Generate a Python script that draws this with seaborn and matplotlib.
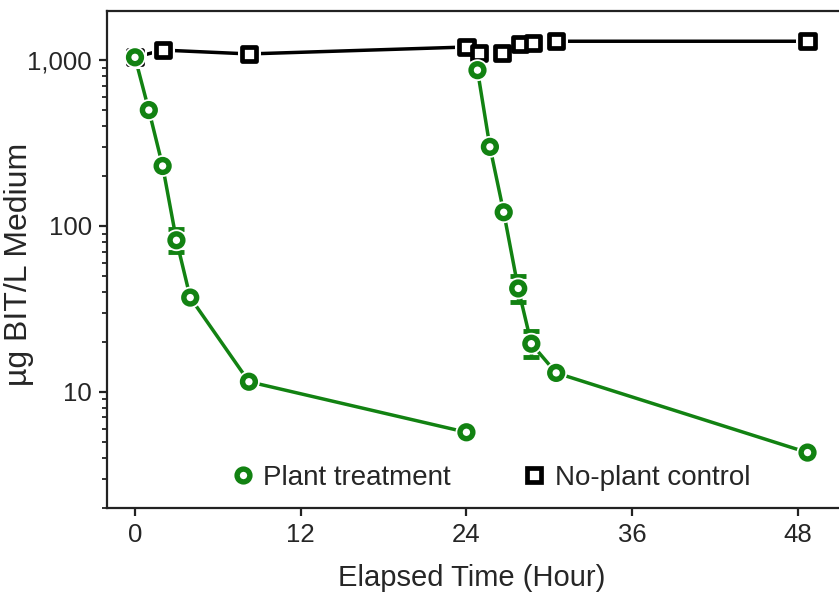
import numpy as np
import pandas as pd
import matplotlib
matplotlib.use("Agg")
import matplotlib.pyplot as plt
import matplotlib.patheffects as pe
from matplotlib.lines import Line2D
from matplotlib.ticker import FuncFormatter, LogLocator, NullFormatter
import seaborn as sns

# Plant treatment: two dosing runs (0-24 h and 24.8-48.7 h)
plant_hours_1 = [0, 1, 2, 3, 4, 8.25, 24]
plant_conc_1 = [1040, 500, 230, 82, 37, 11.5, 5.7]
plant_hours_2 = [24.8, 25.7, 26.7, 27.75, 28.7, 30.5, 48.7]
plant_conc_2 = [870, 300, 121, 42, 19.5, 13, 4.3]

# No-plant control
control_hours = [0, 2, 8.25, 24, 24.9, 26.6, 27.9, 28.8, 30.5, 48.7]
control_conc = [1040, 1150, 1090, 1200, 1100, 1100, 1250, 1270, 1300, 1300]

# error bars (plant treatment, lower / upper)
err_hours = [3, 27.75, 28.7]
err_conc = [82, 42, 19.5]
err_low = [70, 35, 16.3]
err_high = [96, 50, 23.4]

GREEN = "#128212"
BLACK = "#000000"

plant = pd.concat([
    pd.DataFrame({"hour": plant_hours_1, "conc": plant_conc_1, "run": 1}),
    pd.DataFrame({"hour": plant_hours_2, "conc": plant_conc_2, "run": 2}),
])
plant["group"] = "Plant treatment"
control = pd.DataFrame({"hour": control_hours, "conc": control_conc, "run": 0})
control["group"] = "No-plant control"
df = pd.concat([control, plant], ignore_index=True)

sns.set_style("ticks")
plt.rcParams["font.family"] = ["Liberation Sans", "DejaVu Sans"]

fig = plt.figure(figsize=(8.39, 5.98), dpi=100)
ax = fig.add_axes([0.1275, 0.151, 0.8725, 0.831])

palette = {"Plant treatment": GREEN, "No-plant control": BLACK}
sns.lineplot(data=df, x="hour", y="conc", hue="group", units="run",
             estimator=None, palette=palette, linewidth=2.5, legend=False,
             ax=ax, zorder=2)

ax.errorbar(err_hours, err_conc,
            yerr=[np.array(err_conc) - np.array(err_low),
                  np.array(err_high) - np.array(err_conc)],
            fmt="none", ecolor=GREEN, elinewidth=2.5, capsize=6,
            capthick=3.5, zorder=3)

halo = [pe.Stroke(linewidth=6.5, foreground="white"), pe.Normal()]
sns.scatterplot(data=control, x="hour", y="conc", marker="s", s=105,
                color="white", edgecolor=BLACK, linewidth=3.4, ax=ax,
                zorder=4, legend=False)
ax.collections[-1].set_path_effects(halo)
sns.scatterplot(data=plant, x="hour", y="conc", marker="o", s=85,
                color="white", edgecolor=GREEN, linewidth=3.9, ax=ax,
                zorder=5, legend=False)
ax.collections[-1].set_path_effects(halo)

ax.set_yscale("log")
ax.set_ylim(2.0, 1985)
ax.set_xlim(-2.03, 50.98)
ax.set_xticks([0, 12, 24, 36, 48])
ax.yaxis.set_major_locator(LogLocator(base=10, numticks=10))
ax.yaxis.set_minor_locator(LogLocator(base=10, subs=np.arange(2, 10), numticks=20))
ax.yaxis.set_minor_formatter(NullFormatter())
ax.yaxis.set_major_formatter(FuncFormatter(lambda v, p: f"{v:,.0f}"))

ax.tick_params(axis="both", which="major", direction="out", length=6,
               width=1.6, labelsize=18.5, color="#222222", pad=5)
ax.tick_params(axis="y", which="minor", direction="out", length=3.5,
               width=1.3, color="#222222")
for side in ["left", "bottom", "top"]:
    ax.spines[side].set_linewidth(1.6)
    ax.spines[side].set_color("#222222")
ax.spines["right"].set_visible(False)

ax.set_xlabel("Elapsed Time (Hour)", fontsize=21)
ax.xaxis.set_label_coords(0.4986, -0.113)
ax.set_ylabel("µg BIT/L Medium", fontsize=23)
ax.yaxis.set_label_coords(-0.1, 0.489)

handles = [
    Line2D([], [], linestyle="none", marker="o", markersize=9.2,
           markerfacecolor="white", markeredgecolor=GREEN,
           markeredgewidth=3.9, label="Plant treatment"),
    Line2D([], [], linestyle="none", marker="s", markersize=10.2,
           markerfacecolor="white", markeredgecolor=BLACK,
           markeredgewidth=3.4, label="No-plant control"),
]
ax.legend(handles=handles, loc="center left", bbox_to_anchor=(0.134, 0.06),
          ncol=2, frameon=False, fontsize=20, handlelength=0.9,
          handletextpad=0.3, columnspacing=2.55)

fig.savefig("out.png", dpi=100)
